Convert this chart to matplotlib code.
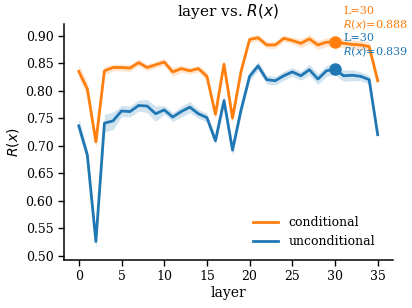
import numpy as np
import matplotlib
matplotlib.use('Agg')
import matplotlib.pyplot as plt

plt.rcParams['font.family'] = ['DejaVu Serif']
plt.rcParams['mathtext.fontset'] = 'dejavusans'

layers = list(range(36))

conditional = [0.835, 0.803, 0.707, 0.836, 0.842, 0.842, 0.841, 0.851, 0.842, 0.847,
               0.852, 0.834, 0.840, 0.836, 0.840, 0.826, 0.757, 0.848, 0.750, 0.835,
               0.893, 0.896, 0.883, 0.883, 0.895, 0.891, 0.886, 0.894, 0.883, 0.888,
               0.888, 0.886, 0.884, 0.883, 0.880, 0.818]
conditional_ci = [0.012, 0.012, 0.010, 0.008, 0.006, 0.006, 0.006, 0.006, 0.006, 0.006,
                  0.006, 0.008, 0.006, 0.006, 0.006, 0.008, 0.008, 0.008, 0.008, 0.008,
                  0.006, 0.006, 0.006, 0.006, 0.006, 0.006, 0.008, 0.008, 0.008, 0.008,
                  0.008, 0.008, 0.008, 0.008, 0.008, 0.008]

unconditional = [0.736, 0.683, 0.526, 0.741, 0.745, 0.763, 0.762, 0.773, 0.772, 0.758,
                 0.765, 0.752, 0.762, 0.770, 0.758, 0.751, 0.709, 0.782, 0.692, 0.765,
                 0.826, 0.845, 0.820, 0.818, 0.827, 0.834, 0.827, 0.838, 0.821, 0.836,
                 0.839, 0.827, 0.828, 0.826, 0.820, 0.720]
unconditional_ci = [0.014, 0.010, 0.012, 0.016, 0.016, 0.010, 0.010, 0.010, 0.012, 0.014,
                    0.008, 0.008, 0.010, 0.010, 0.008, 0.008, 0.008, 0.010, 0.010, 0.010,
                    0.008, 0.008, 0.008, 0.008, 0.008, 0.008, 0.008, 0.010, 0.010, 0.010,
                    0.010, 0.010, 0.010, 0.008, 0.008, 0.008]

best_layer = 30

fig = plt.figure(figsize=(4.12, 3.08), dpi=100)
ax = fig.add_axes([0.155, 0.157, 0.798, 0.765])

series = [('conditional', conditional, conditional_ci, '#ff7f0e'),
          ('unconditional', unconditional, unconditional_ci, '#1f77b4')]

for name, vals, ci, color in series:
    vals = np.array(vals)
    ci = np.array(ci)
    ax.fill_between(layers, vals - ci, vals + ci, color=color, alpha=0.2, lw=0)
    ax.plot(layers, vals, color=color, lw=2, label=name)
    ax.plot(best_layer, vals[best_layer], 'o', color=color, ms=8)
    ax.annotate(f'L={best_layer}\n$R(x)$={vals[best_layer]:.3f}',
                xy=(best_layer, vals[best_layer]), xytext=(6, 8),
                textcoords='offset points', color=color, fontsize=8,
                va='bottom', ha='left')

ax.set_xlim(-1.75, 36.75)
ax.set_ylim(0.493, 0.921)
ax.set_xticks(range(0, 36, 5))
ax.set_yticks(np.arange(0.50, 0.91, 0.05))
ax.yaxis.set_major_formatter(matplotlib.ticker.FormatStrFormatter('%.2f'))
ax.tick_params(labelsize=9, length=4, width=1)
for side in ['top', 'right']:
    ax.spines[side].set_visible(False)
for side in ['left', 'bottom']:
    ax.spines[side].set_linewidth(1.1)

ax.set_xlabel('layer', fontsize=10, labelpad=2)
ax.set_ylabel('$R(x)$', fontsize=10, labelpad=3)
ax.set_title('layer vs. $R(x)$', fontsize=11, pad=6)
ax.legend(loc='lower right', frameon=False, fontsize=9, bbox_to_anchor=(0.98, 0.0))

fig.savefig('out.png', dpi=100)
